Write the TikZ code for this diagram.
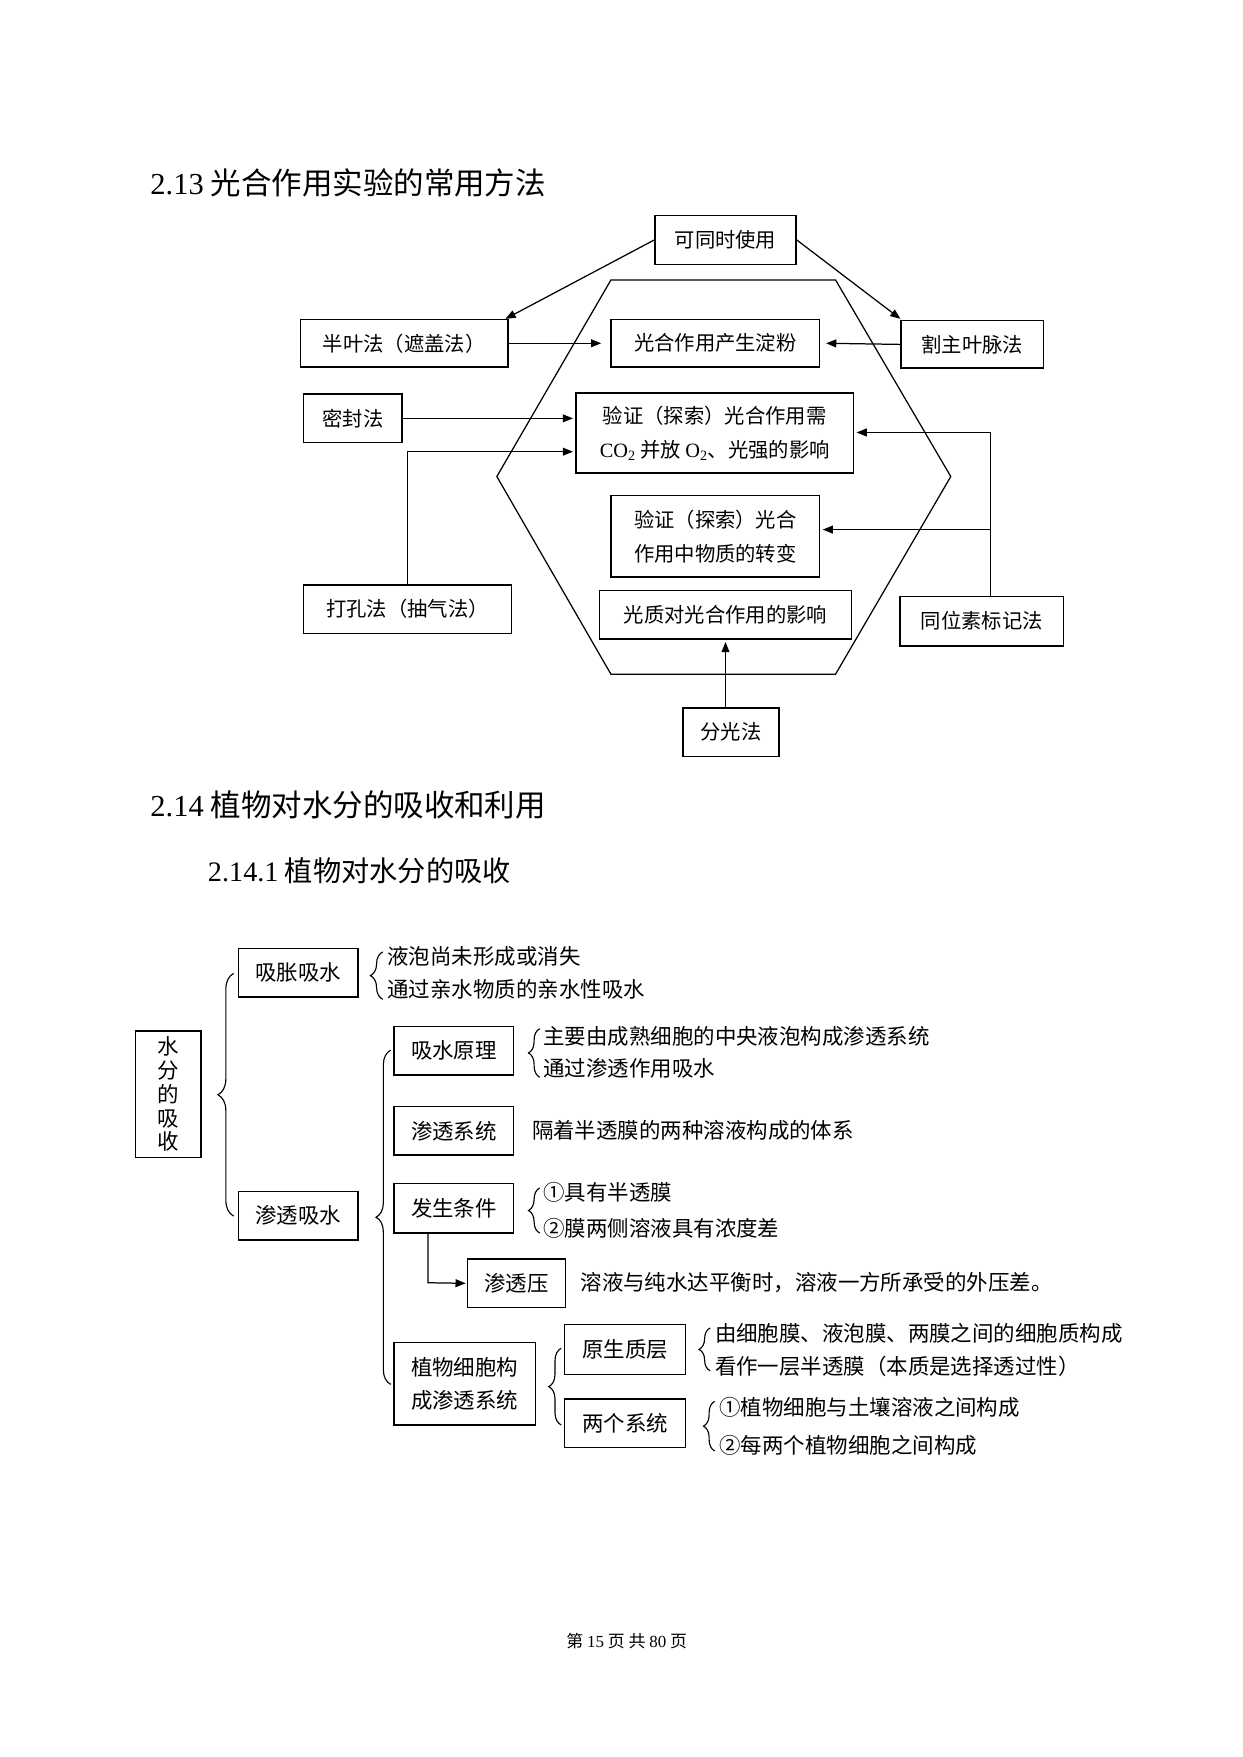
\documentclass[tikz,border=0pt]{standalone}
\usepackage{fontspec}
\setmainfont{Noto Sans CJK SC}
\newfontfamily\lat{Liberation Serif}
\usetikzlibrary{arrows.meta,decorations.pathreplacing}
\begin{document}
\begin{tikzpicture}[x=1pt,y=-1pt,
  box/.style={draw,line width=1.2pt,inner sep=0pt,align=center,font=\fontsize{18}{30}\selectfont},
  bx/.style={draw,line width=1.2pt,inner sep=0pt,align=center,font=\fontsize{19}{30}\selectfont},
  txt/.style={anchor=west,inner sep=0pt,font=\fontsize{19}{24}\selectfont},
  arr/.style={line width=1.1pt,-{Triangle[length=9pt,width=7pt]}},
  ln/.style={line width=1.1pt},
  brc/.style={line width=1pt,decorate,decoration={brace,amplitude=#1}}]
\useasboundingbox (0,0) rectangle (1100,1556);
\fill[white] (0,0) rectangle (1100,1556);
% headings
\node[anchor=west,inner sep=0pt,font=\fontsize{27}{30}\selectfont] (h1) at (133,162) {{\lat 2.13} 光合作用实验的常用方法};
\node[anchor=west,inner sep=0pt,font=\fontsize{27}{30}\selectfont] (h2) at (133,713) {{\lat 2.14} 植物对水分的吸收和利用};
\node[anchor=west,inner sep=0pt,font=\fontsize{25}{30}\selectfont] (h3) at (184,771) {{\lat 2.14.1} 植物对水分的吸收};
% hexagon
\draw[ln] (541,248) -- (740,248) -- (842,422) -- (740,597) -- (541,597) -- (440,422) -- cycle;
% part 1 boxes
\node[box,minimum width=125,minimum height=43] (tong) at (642.5,212.5) {可同时使用};
\node[box,minimum width=184,minimum height=42] (banye) at (358,304) {半叶法（遮盖法）};
\node[box,minimum width=185,minimum height=42] (dianfen) at (633.5,304) {光合作用产生淀粉};
\node[box,minimum width=126,minimum height=42] (gezhu) at (861,305) {割主叶脉法};
\node[box,minimum width=87,minimum height=43] (mifeng) at (312.5,370.5) {密封法};
\node[box,minimum width=246,minimum height=71] (yz1) at (633,383.5) {验证（探索）光合作用需\\{\lat CO\textsubscript{2}} 并放 {\lat O\textsubscript{2}}、光强的影响};
\node[box,minimum width=185,minimum height=72] (yz2) at (633.5,475) {验证（探索）光合\\作用中物质的转变};
\node[box,minimum width=184,minimum height=43] (dakong) at (361,539.5) {打孔法（抽气法）};
\node[box,minimum width=223,minimum height=43] (guangzhi) at (642.5,544.5) {光质对光合作用的影响};
\node[box,minimum width=145,minimum height=44] (tongwei) at (869.5,550) {同位素标记法};
\node[box,minimum width=85,minimum height=43] (fenguang) at (647.5,648.5) {分光法};
% part 1 arrows
\draw[arr] (tong.west) -- ([xshift=-3]banye.north east);
\draw[arr] (tong.east) -- ([yshift=1]gezhu.north west);
\draw[arr] (banye.east) -- ([xshift=-8]dianfen.west);
\draw[arr] (gezhu.west) -- ([xshift=5]dianfen.east);
\draw[arr] (mifeng.east) -- ([xshift=-2]mifeng.east -| yz1.west);
\coordinate (dk) at (361,400);
\draw[arr] (dakong.north) -- (dk) -- ([xshift=-2]dk -| yz1.west);
\coordinate (tw) at (877,383);
\coordinate (tw2) at (877,469);
\draw[ln] (tongwei.north -| tw) -- (tw);
\draw[arr] (tw) -- ([xshift=2]tw -| yz1.east);
\draw[arr] (tw2) -- ([xshift=2]tw2 -| yz2.east);
\draw[arr] (fenguang.north -| guangzhi.south) -- ([yshift=-2]guangzhi.south);
% part 2 boxes
\node[bx,minimum width=58,minimum height=112] (shui) at (149,969) {水\\[-9pt]分\\[-9pt]的\\[-9pt]吸\\[-9pt]收};
\node[bx,minimum width=106,minimum height=43] (xizhang) at (264,861.5) {吸胀吸水};
\node[bx,minimum width=106,minimum height=43] (shentou) at (264,1076.5) {渗透吸水};
\node[bx,minimum width=106,minimum height=43] (yuanli) at (402,930.5) {吸水原理};
\node[bx,minimum width=106,minimum height=43] (xitong) at (402,1001.5) {渗透系统};
\node[bx,minimum width=106,minimum height=44] (tiaojian) at (402,1070) {发生条件};
\node[bx,minimum width=87,minimum height=43] (sty) at (457.5,1136.5) {渗透压};
\node[bx,minimum width=125,minimum height=73] (zhiwu) at (411.5,1225.5) {植物细胞构\\成渗透系统};
\node[bx,minimum width=107,minimum height=44] (yuansheng) at (553.5,1195) {原生质层};
\node[bx,minimum width=107,minimum height=43] (liangge) at (553.5,1260.5) {两个系统};
% texts
\node[txt] (a1) at (343,847) {液泡尚未形成或消失};
\node[txt] (a2) at (343,876) {通过亲水物质的亲水性吸水};
\node[txt] (b1) at (481,918) {主要由成熟细胞的中央液泡构成渗透系统};
\node[txt] (b2) at (481,946) {通过渗透作用吸水};
\node[txt] (c1) at (471,1001) {隔着半透膜的两种溶液构成的体系};
\node[txt] (d1) at (481,1056) {①具有半透膜};
\node[txt] (d2) at (481,1088) {②膜两侧溶液具有浓度差};
\node[txt] (e1) at (514,1136) {溶液与纯水达平衡时，溶液一方所承受的外压差。};
\node[txt] (f1) at (633,1181) {由细胞膜、液泡膜、两膜之间的细胞质构成};
\node[txt] (f2) at (633,1210) {看作一层半透膜（本质是选择透过性）};
\node[txt] (g1) at (637,1246) {①植物细胞与土壤溶液之间构成};
\node[txt] (g2) at (637,1280) {②每两个植物细胞之间构成};
% braces
\draw[brc=14] (207,1077) -- (207,862);
\draw[brc=11] (339,885) -- (339,843);
\draw[brc=13] (346,1226) -- (346,930);
\draw[brc=10] (478,954) -- (478,911);
\draw[brc=10] (478,1092) -- (478,1052);
\draw[brc=11] (497,1262) -- (497,1194);
\draw[brc=10] (629,1214) -- (629,1176);
\draw[brc=10] (633,1285) -- (633,1241);
\coordinate (tj) at (379,1136);
\draw[arr] (tiaojian.south -| tj) -- (tj) -- ([xshift=-1]sty.west);
% footer
\node[inner sep=0pt,font=\fontsize{15}{18}\selectfont] (ft) at (555,1453) {第 {\lat 15} 页 共 {\lat 80} 页};
\end{tikzpicture}
\end{document}
